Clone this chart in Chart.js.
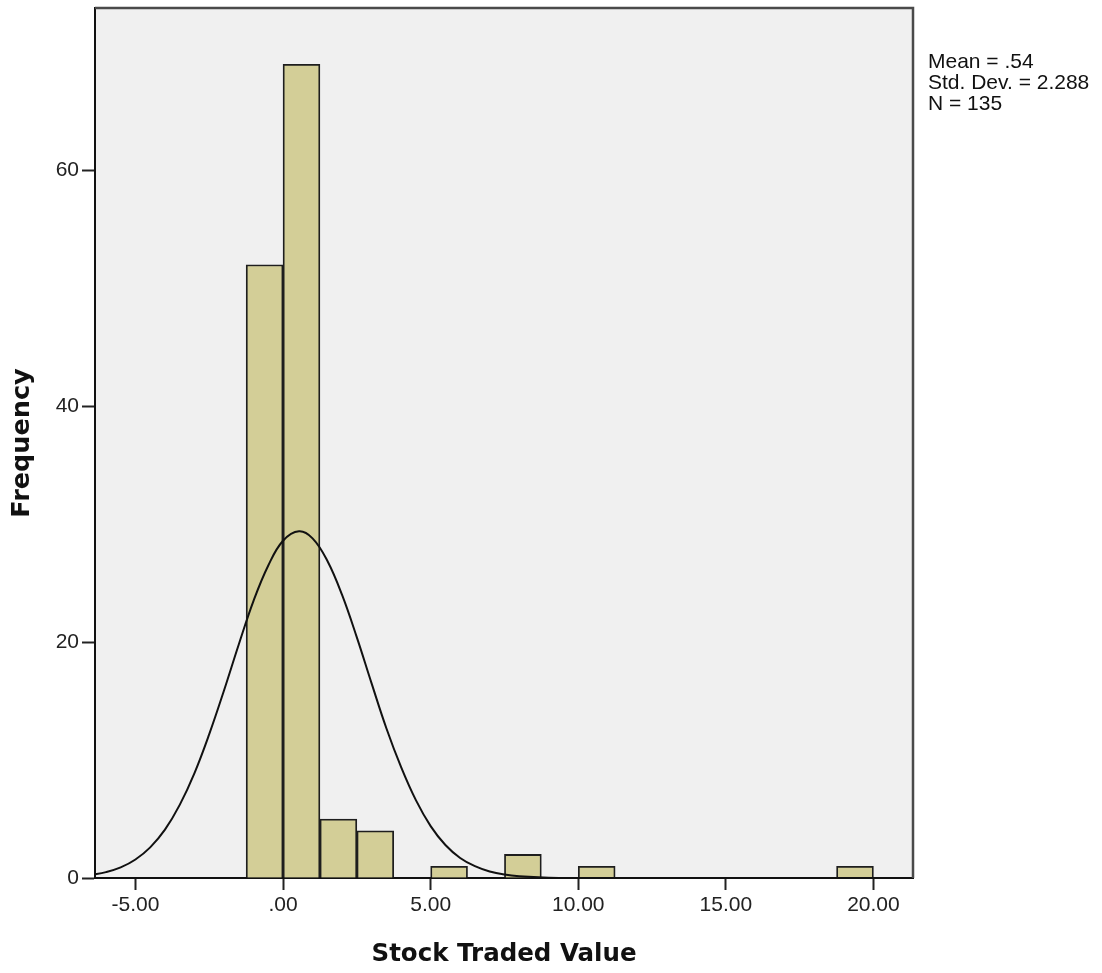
<!DOCTYPE html>
<html>
<head>
<meta charset="utf-8">
<script src="https://cdn.jsdelivr.net/npm/chart.js@4/dist/chart.umd.min.js"></script>
<style>
  html, body { margin: 0; padding: 0; background: #ffffff; }
  #wrap { position: relative; width: 1102px; height: 973px; }
</style>
</head>
<body>
<div id="wrap"><canvas id="c"></canvas></div>
<script>
// Histogram bins (bin centers, bin width 1.25) and counts
const binCenters = [-0.625, 0.625, 1.875, 3.125, 5.625, 8.125, 10.625, 19.375];
const binCounts  = [52, 69, 5, 4, 1, 2, 1, 1];

// Normal curve points
const curveX = [-6.5, -6, -5.5, -5, -4.5, -4, -3.5, -3, -2.5, -2, -1.5, -1, -0.5, 0, 0.54, 1, 1.5, 2, 2.5, 3, 3.5, 4, 4.5, 5, 5.5, 6, 6.5, 7, 7.5, 8, 9, 10, 12, 16, 21.5];
const curveY = [0.26, 0.5, 0.9, 1.57, 2.6, 4.1, 6.2, 8.9, 12.2, 15.9, 19.8, 23.5, 26.5, 28.6, 29.4, 28.8, 26.9, 24.0, 20.4, 16.5, 12.7, 9.4, 6.6, 4.4, 2.8, 1.7, 1.0, 0.55, 0.29, 0.15, 0.03, 0.005, 0, 0, 0];

// Axis ticks
const xTickValues = [-5, 0, 5, 10, 15, 20];
const xTickLabels = ['-5.00', '.00', '5.00', '10.00', '15.00', '20.00'];
const yTickValues = [0, 20, 40, 60];
const yTickLabels = ['0', '20', '40', '60'];

// Statistics legend
const statLines = ['Mean = .54', 'Std. Dev. = 2.288', 'N = 135'];

const tickFont = { family: '"Liberation Sans", Arial, sans-serif', size: 21 };

const plotDecor = {
  id: 'plotDecor',
  beforeDraw(chart) {
    const { ctx, chartArea: a } = chart;
    ctx.save();
    ctx.fillStyle = '#f0f0f0';
    ctx.fillRect(a.left, a.top, a.right - a.left, a.bottom - a.top);
    ctx.restore();
  },
  afterDraw(chart) {
    const { ctx, chartArea: a } = chart;
    ctx.save();
    ctx.strokeStyle = '#4a4a4a';
    ctx.lineWidth = 2.5;
    ctx.beginPath();
    ctx.moveTo(a.left, a.top);
    ctx.lineTo(a.right, a.top);
    ctx.lineTo(a.right, a.bottom);
    ctx.stroke();
    ctx.fillStyle = '#111';
    ctx.font = '21px "Liberation Sans", Arial, sans-serif';
    ctx.textAlign = 'left';
    ctx.textBaseline = 'alphabetic';
    statLines.forEach((t, i) => ctx.fillText(t, a.right + 15, 67.5 + i * 21));
    ctx.restore();
  }
};

new Chart(document.getElementById('c'), {
  type: 'bar',
  data: {
    datasets: [
      {
        type: 'line',
        data: curveX.map((x, i) => ({ x: x, y: curveY[i] })),
        borderColor: '#111',
        borderWidth: 2,
        pointRadius: 0,
        tension: 0.4,
        fill: false,
        order: 0
      },
      {
        type: 'bar',
        data: binCenters.map((x, i) => ({ x: x, y: binCounts[i] })),
        backgroundColor: '#d3ce97',
        borderColor: '#1e1e1e',
        borderWidth: 1.8,
        barPercentage: 1,
        categoryPercentage: 1,
        order: 1
      }
    ]
  },
  options: {
    responsive: true,
    maintainAspectRatio: false,
    animation: false,
    layout: { padding: { top: 8, right: 189, left: 0, bottom: 0 } },
    plugins: { legend: { display: false }, tooltip: { enabled: false } },
    scales: {
      x: {
        type: 'linear',
        min: -6.37,
        max: 21.34,
        offset: false,
        afterFit(s) { s.height = 95; s.paddingLeft = 0; s.paddingRight = 0; },
        afterBuildTicks(s) { s.ticks = xTickValues.map(v => ({ value: v })); },
        ticks: {
          autoSkip: false,
          maxRotation: 0,
          padding: 3,
          color: '#222',
          font: tickFont,
          callback: (v, i) => xTickLabels[i]
        },
        grid: { offset: false, drawOnChartArea: false, drawTicks: true, tickLength: 12, tickWidth: 2, tickColor: '#222' },
        border: { display: true, color: '#111', width: 2 },
        title: {
          display: true,
          text: 'Stock Traded Value',
          color: '#111',
          font: { family: '"DejaVu Sans", sans-serif', size: 24.5, weight: 'bold' },
          padding: { top: 0, bottom: 4 }
        }
      },
      y: {
        type: 'linear',
        min: 0,
        max: 73.77,
        afterFit(s) { s.width = 95; s.paddingTop = 0; s.paddingBottom = 0; },
        afterBuildTicks(s) { s.ticks = yTickValues.map(v => ({ value: v })); },
        ticks: {
          padding: 3,
          color: '#222',
          font: tickFont,
          callback: (v, i) => yTickLabels[i]
        },
        grid: { offset: false, drawOnChartArea: false, drawTicks: true, tickLength: 13, tickWidth: 2, tickColor: '#222' },
        border: { display: true, color: '#111', width: 2 },
        title: {
          display: true,
          text: 'Frequency',
          color: '#111',
          font: { family: '"DejaVu Sans", sans-serif', size: 25.5, weight: 'bold' },
          padding: { top: 7, bottom: 0 }
        }
      }
    }
  },
  plugins: [plotDecor]
});
</script>
</body>
</html>
